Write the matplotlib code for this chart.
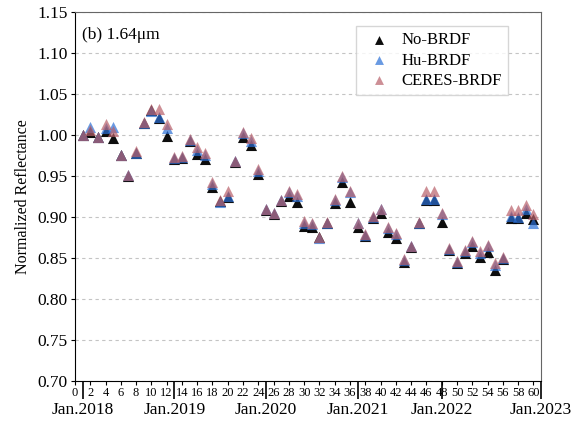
import numpy as np
import matplotlib
matplotlib.use("Agg")
import matplotlib.pyplot as plt

plt.rcParams['font.family'] = ['Liberation Serif', 'DejaVu Serif']

# month index (1 = Jan.2018)
months = np.arange(1, 61)

no_brdf = [1.000, 1.004, 0.997, 1.005, 0.996, 0.975, 0.950, 0.978, 1.014, 1.030,
           1.020, 0.999, 0.971, 0.972, 0.993, 0.977, 0.970, 0.936, 0.919, 0.924,
           0.967, 0.998, 0.988, 0.952, 0.908, 0.904, 0.919, 0.926, 0.918, 0.889,
           0.888, 0.875, 0.892, 0.917, 0.942, 0.918, 0.888, 0.877, 0.899, 0.905,
           0.882, 0.874, 0.845, 0.863, 0.892, 0.921, 0.921, 0.894, 0.859, 0.844,
           0.856, 0.864, 0.851, 0.857, 0.835, 0.849, 0.898, 0.899, 0.905, 0.897]
hu_brdf = [1.000, 1.010, 0.998, 1.008, 1.010, 0.976, 0.951, 0.978, 1.015, 1.029,
           1.022, 1.008, 0.972, 0.973, 0.994, 0.982, 0.976, 0.940, 0.918, 0.925,
           0.968, 1.002, 0.993, 0.956, 0.909, 0.905, 0.920, 0.930, 0.926, 0.893,
           0.891, 0.874, 0.893, 0.921, 0.948, 0.930, 0.892, 0.878, 0.900, 0.909,
           0.887, 0.879, 0.847, 0.864, 0.893, 0.922, 0.922, 0.903, 0.861, 0.845,
           0.858, 0.869, 0.856, 0.864, 0.841, 0.850, 0.901, 0.900, 0.910, 0.893]
ceres_brdf = [1.000, 1.006, 0.998, 1.013, 1.005, 0.976, 0.951, 0.980, 1.016, 1.032,
              1.031, 1.013, 0.973, 0.974, 0.995, 0.985, 0.978, 0.942, 0.920, 0.931,
              0.968, 1.004, 0.996, 0.958, 0.910, 0.905, 0.921, 0.932, 0.928, 0.895,
              0.893, 0.876, 0.894, 0.922, 0.950, 0.931, 0.893, 0.879, 0.901, 0.910,
              0.888, 0.880, 0.848, 0.865, 0.894, 0.931, 0.932, 0.905, 0.862, 0.846,
              0.859, 0.871, 0.858, 0.866, 0.844, 0.851, 0.908, 0.908, 0.915, 0.903]

year_pos = [1, 13, 25, 37, 48, 61]
year_labels = ['Jan.2018', 'Jan.2019', 'Jan.2020', 'Jan.2021', 'Jan.2022', 'Jan.2023']

fig = plt.figure(figsize=(5.72, 4.25), dpi=100)
ax = fig.add_axes([0.131, 0.104, 0.815, 0.868])

ax.scatter(months, no_brdf, marker='^', s=64, color='black', alpha=0.95, label='No-BRDF', zorder=3, linewidths=0)
ax.scatter(months, hu_brdf, marker='^', s=64, color='#2a6fd6', alpha=0.7, label='Hu-BRDF', zorder=3, linewidths=0)
ax.scatter(months, ceres_brdf, marker='^', s=64, color='#b8606a', alpha=0.7, label='CERES-BRDF', zorder=3, linewidths=0)

ax.set_xlim(0, 61)
ax.set_ylim(0.70, 1.15)
ax.set_yticks(np.arange(0.70, 1.151, 0.05))
ax.set_yticklabels(['%.2f' % v for v in np.arange(0.70, 1.151, 0.05)], fontsize=12.5)
ax.set_xticks(np.arange(0, 61, 2))
ax.set_xticklabels([str(v) for v in range(0, 61, 2)], fontsize=9)
ax.tick_params(axis='x', direction='out', length=3, pad=1.5)
ax.tick_params(axis='y', direction='out', length=3, pad=2)
ax.yaxis.grid(True, linestyle=(0, (3, 3)), color='#c4c4c4', linewidth=0.8)
ax.set_axisbelow(True)
ax.set_ylabel('Normalized Reflectance', fontsize=11.5, labelpad=5)

for s in ['top', 'right']:
    ax.spines[s].set_color('#666666')

# year axis
sec = ax.secondary_xaxis('bottom')
sec.set_xticks(year_pos)
sec.set_xticklabels(year_labels, fontsize=12.5)
sec.tick_params(axis='x', direction='out', length=13, width=1.2, pad=2)
sec.spines['bottom'].set_visible(False)

ax.text(0.015, 0.96, '(b) 1.64\u03bcm', transform=ax.transAxes, fontsize=12.5, va='top', ha='left')

ax.legend(loc='upper right', bbox_to_anchor=(0.947, 0.985), fontsize=12,
          edgecolor='#cccccc', fancybox=False, handletextpad=0.3, borderpad=0.4,
          labelspacing=0.25, markerscale=0.8)

fig.savefig('out.png', dpi=100)
